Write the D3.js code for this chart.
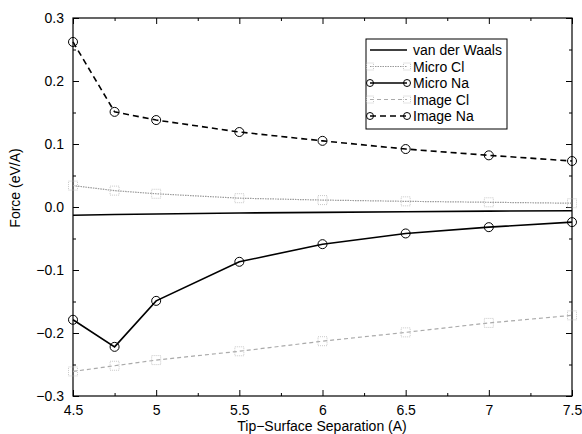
<!DOCTYPE html>
<html>
<head>
<meta charset="utf-8">
<script src="https://cdn.jsdelivr.net/npm/d3@7"></script>
<style>
  body { margin: 0; background: #fff; }
  svg { font-family: "Liberation Sans", Arial, sans-serif; }
</style>
</head>
<body>
<svg id="chart" width="582" height="434"></svg>
<script>
const separation = [4.5, 4.75, 5, 5.5, 6, 6.5, 7, 7.5];
const vanDerWaals = [-0.013, -0.012, -0.011, -0.0095, -0.0085, -0.0075, -0.0065, -0.006];
const microCl = [0.034, 0.026, 0.021, 0.014, 0.011, 0.009, 0.0075, 0.006];
const microNa = [-0.179, -0.222, -0.149, -0.087, -0.059, -0.042, -0.032, -0.024];
const imageCl = [-0.261, -0.252, -0.243, -0.229, -0.213, -0.199, -0.184, -0.172];
const imageNa = [0.262, 0.151, 0.138, 0.119, 0.105, 0.092, 0.082, 0.073];
const xTicks = [4.5, 5, 5.5, 6, 6.5, 7, 7.5];
const yTicks = [-0.3, -0.2, -0.1, 0.0, 0.1, 0.2, 0.3];

const series = [
  { name: "van der Waals", values: vanDerWaals, color: "#000", width: 1.6, dash: null, marker: null },
  { name: "Micro Cl", values: microCl, color: "#999", width: 1.2, dash: "1.5,1", marker: "square" },
  { name: "Micro Na", values: microNa, color: "#000", width: 1.6, dash: null, marker: "circle" },
  { name: "Image Cl", values: imageCl, color: "#aaa", width: 1.2, dash: "4,3", marker: "square" },
  { name: "Image Na", values: imageNa, color: "#000", width: 1.6, dash: "6,4", marker: "circle" }
];

const margin = { top: 18, right: 10, bottom: 38, left: 73 };
const width = 582 - margin.left - margin.right,
  height = 434 - margin.top - margin.bottom;

const svg = d3.select("#chart")
  .append("g")
  .attr("transform", `translate(${margin.left},${margin.top})`);

const x = d3.scaleLinear().domain([4.5, 7.5]).range([0, width]);
const y = d3.scaleLinear().domain([-0.3, 0.3]).range([height, 0]);

// frame
svg.append("rect")
  .attr("width", width).attr("height", height)
  .attr("fill", "none").attr("stroke", "#000").attr("stroke-width", 1.2);

// axes with inward ticks
const xMinor = d3.range(4.75, 7.5, 0.5);
const yMinor = d3.range(-0.25, 0.3, 0.1);

svg.append("g").attr("transform", `translate(0,${height})`)
  .call(d3.axisBottom(x).tickValues(xTicks).tickSize(-6).tickPadding(9).tickFormat(d3.format("")))
  .call(g => g.select(".domain").remove());
svg.append("g").attr("transform", `translate(0,${height})`)
  .call(d3.axisBottom(x).tickValues(xMinor).tickSize(-3).tickFormat(""))
  .call(g => g.select(".domain").remove());
svg.append("g")
  .call(d3.axisTop(x).tickValues(xTicks).tickSize(-6).tickFormat(""))
  .call(g => g.select(".domain").remove());
svg.append("g")
  .call(d3.axisTop(x).tickValues(xMinor).tickSize(-3).tickFormat(""))
  .call(g => g.select(".domain").remove());

svg.append("g")
  .call(d3.axisLeft(y).tickValues(yTicks).tickSize(-6).tickPadding(9).tickFormat(d3.format(".1f")))
  .call(g => g.select(".domain").remove());
svg.append("g")
  .call(d3.axisLeft(y).tickValues(yMinor).tickSize(-3).tickFormat(""))
  .call(g => g.select(".domain").remove());
svg.append("g").attr("transform", `translate(${width},0)`)
  .call(d3.axisRight(y).tickValues(yTicks).tickSize(-6).tickFormat(""))
  .call(g => g.select(".domain").remove());
svg.append("g").attr("transform", `translate(${width},0)`)
  .call(d3.axisRight(y).tickValues(yMinor).tickSize(-3).tickFormat(""))
  .call(g => g.select(".domain").remove());

svg.selectAll(".tick text").attr("font-size", 14).attr("fill", "#000")
  .attr("font-family", "Liberation Sans, Arial, sans-serif");
svg.selectAll(".tick line").attr("stroke", "#000");

// labels
svg.append("text")
  .attr("x", 322 - margin.left).attr("y", height + 35)
  .attr("text-anchor", "middle").attr("font-size", 14)
  .text("Tip\u2212Surface Separation (A)");
svg.append("text")
  .attr("transform", `translate(${20 - margin.left},${188 - margin.top}) rotate(-90)`)
  .attr("text-anchor", "middle").attr("font-size", 14)
  .text("Force (eV/A)");

// lines and markers
const line = d3.line().x((d, i) => x(separation[i])).y(d => y(d));

function drawMarker(g, type, cx, cy, color, r) {
  if (type === "circle") {
    g.append("circle").attr("cx", cx).attr("cy", cy).attr("r", r)
      .attr("fill", "none").attr("stroke", color).attr("stroke-width", 1);
  } else if (type === "square") {
    g.append("rect").attr("x", cx - r).attr("y", cy - r).attr("width", 2 * r).attr("height", 2 * r)
      .attr("fill", "none").attr("stroke", "#bbb").attr("stroke-width", 0.8)
      .attr("stroke-dasharray", "1,1");
  }
}

series.forEach(s => {
  const g = svg.append("g");
  g.append("path")
    .datum(s.values)
    .attr("d", line)
    .attr("fill", "none")
    .attr("stroke", s.color)
    .attr("stroke-width", s.width)
    .attr("stroke-dasharray", s.dash);
  if (s.marker) {
    s.values.forEach((v, i) => drawMarker(g, s.marker, x(separation[i]), y(v), s.color, 4.5));
  }
});

// legend
const legend = svg.append("g").attr("transform", `translate(${366 - margin.left},${39 - margin.top})`);
legend.append("rect")
  .attr("width", 141).attr("height", 90)
  .attr("fill", "#fff").attr("stroke", "#000").attr("stroke-width", 1);

series.forEach((s, i) => {
  const ly = 11 + i * 16.5;
  legend.append("line")
    .attr("x1", 4).attr("x2", 41).attr("y1", ly).attr("y2", ly)
    .attr("stroke", s.color).attr("stroke-width", s.width)
    .attr("stroke-dasharray", s.dash);
  if (s.marker) {
    drawMarker(legend, s.marker, 4, ly, s.color, 3.5);
    drawMarker(legend, s.marker, 41, ly, s.color, 3.5);
  }
  legend.append("text")
    .attr("x", 47).attr("y", ly + 5)
    .attr("font-size", 14)
    .text(s.name);
});
</script>
</body>
</html>
